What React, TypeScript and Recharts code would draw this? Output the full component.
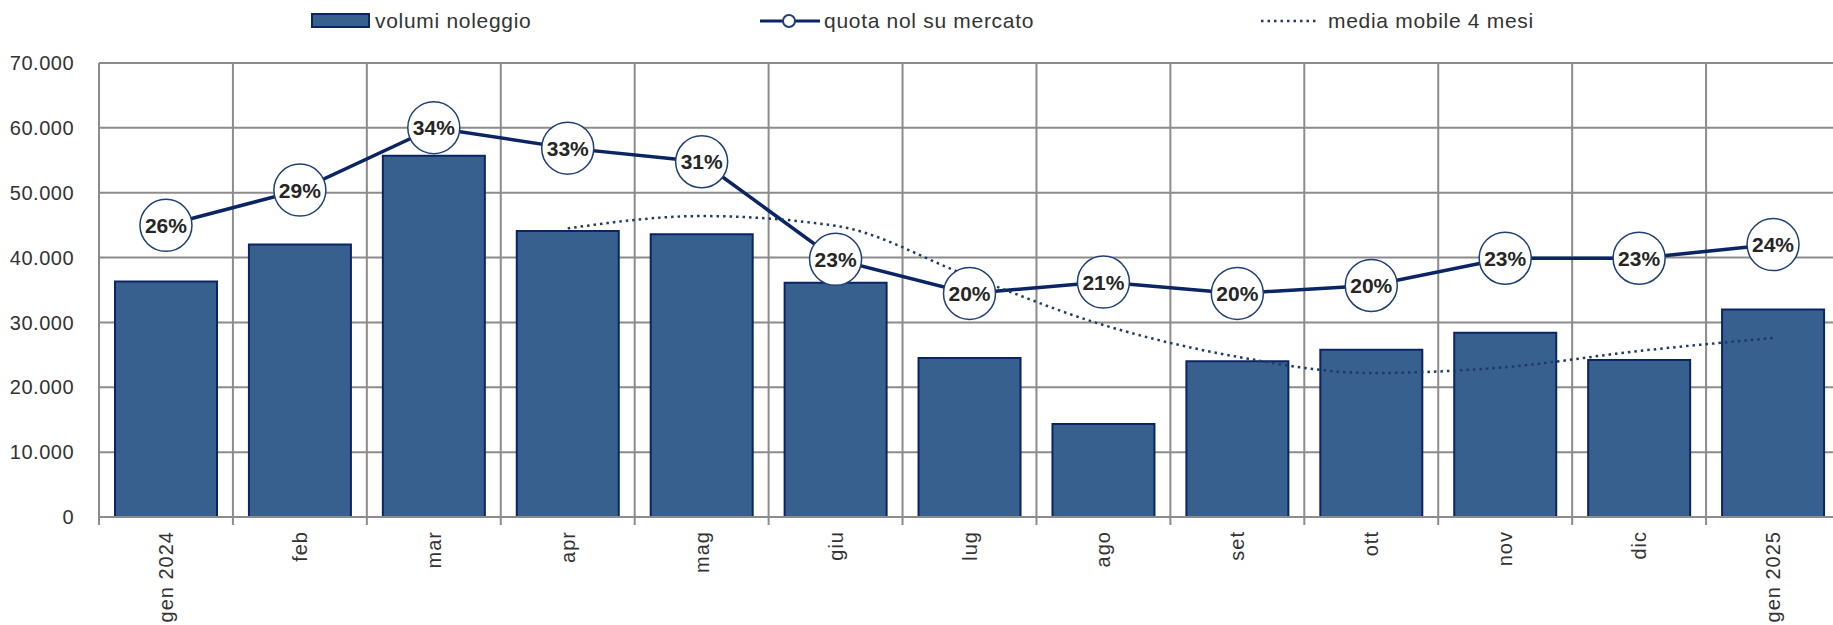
import {
  ComposedChart,
  Bar,
  Line,
  XAxis,
  YAxis,
  CartesianGrid,
  Legend,
} from "recharts";

/* ── dati ── */
const MONTHS = ["gen 2024", "feb", "mar", "apr", "mag", "giu", "lug", "ago", "set", "ott", "nov", "dic", "gen 2025"];
const VOLUMI = [36300, 42000, 55700, 44100, 43600, 36100, 24500, 14350, 24000, 25800, 28400, 24200, 32000];
const QUOTA = [25.7, 28.8, 34.3, 32.5, 31.3, 22.7, 19.7, 20.7, 19.7, 20.4, 22.8, 22.8, 24.0];
const MEDIA_4M = [null, null, null, 44500, 46400, 44900, 37100, 29600, 24700, 22200, 23100, 25600, 27600];
const Y_TICKS = [0, 10000, 20000, 30000, 40000, 50000, 60000, 70000];

const LEGEND_NAMES = ["volumi noleggio", "quota nol su mercato", "media mobile 4 mesi"];

const BAR_FILL = "#37608f";
const NAVY = "#0b2463";
const GRID = "#8c8c8c";
const TEXT = "#333333";
const FONT = "'Liberation Sans', Arial, sans-serif";

const data = MONTHS.map((month, i) => ({
  month,
  vol: VOLUMI[i],
  quota: QUOTA[i],
  ma: MEDIA_4M[i],
}));

const fmtThousands = (v: number) =>
  v === 0 ? "0" : String(v).replace(/\B(?=(\d{3})+(?!\d))/g, ".");

/* ── etichette mese ruotate + tacche sui bordi delle categorie ── */
function MonthTick({ x, y, payload, width, visibleTicksCount, index }: any) {
  const n = visibleTicksCount || MONTHS.length;
  const band = width ? width / n : 133.9;
  const axisY = y - 10;
  const left = x - band / 2;
  return (
    <g>
      <line x1={left} y1={axisY} x2={left} y2={axisY + 8} stroke={GRID} strokeWidth={2} />
      {index === n - 1 && (
        <line x1={left + band} y1={axisY} x2={left + band} y2={axisY + 8} stroke={GRID} strokeWidth={2} />
      )}
      <text
        x={x}
        y={y + 4}
        transform={`rotate(-90, ${x}, ${y + 4})`}
        textAnchor="end"
        dominantBaseline="central"
        fontSize={20}
        letterSpacing={1}
        fill={TEXT}
        fontFamily={FONT}
      >
        {payload.value}
      </text>
    </g>
  );
}

/* ── bolla con percentuale ── */
function QuotaDot({ cx, cy, value, index }: any) {
  if (cx == null || cy == null) return null;
  return (
    <g key={`q-${index}`}>
      <circle cx={cx} cy={cy} r={26} fill="#fff" stroke="#1f3f75" strokeWidth={1.5} />
      <text
        x={cx}
        y={cy}
        textAnchor="middle"
        dominantBaseline="central"
        fontSize={21}
        fontWeight="bold"
        fill="#262626"
        fontFamily={FONT}
      >
        {Math.round(value)}%
      </text>
    </g>
  );
}

/* ── legenda in alto ── */
const LEGEND_LEFT = [311, 760, 1261];

function TopLegend() {
  const label = (text: string, left: number) => (
    <span
      style={{
        position: "absolute",
        left,
        top: 8,
        fontSize: 21,
        letterSpacing: 0.7,
        color: TEXT,
        fontFamily: FONT,
        lineHeight: "26px",
        whiteSpace: "nowrap",
      }}
    >
      {text}
    </span>
  );
  return (
    <div style={{ position: "relative", width: 1833, height: 44 }}>
      <svg style={{ position: "absolute", left: 0, top: 0 }} width={1833} height={44}>
        <rect x={LEGEND_LEFT[0] + 1} y={14} width={57} height={13} fill={BAR_FILL} stroke={NAVY} strokeWidth={2} />
        <line x1={LEGEND_LEFT[1]} y1={21} x2={LEGEND_LEFT[1] + 60} y2={21} stroke={NAVY} strokeWidth={3} />
        <circle cx={LEGEND_LEFT[1] + 29} cy={21} r={6} fill="#fff" stroke="#1f3f75" strokeWidth={2} />
        <line
          x1={LEGEND_LEFT[2]}
          y1={21}
          x2={LEGEND_LEFT[2] + 58}
          y2={21}
          stroke="#1f3a64"
          strokeWidth={2.5}
          strokeDasharray="2.5 4"
        />
      </svg>
      {label(LEGEND_NAMES[0], LEGEND_LEFT[0] + 64)}
      {label(LEGEND_NAMES[1], LEGEND_LEFT[1] + 64)}
      {label(LEGEND_NAMES[2], LEGEND_LEFT[2] + 67)}
    </div>
  );
}

export default function App() {
  return (
    <div
      style={{
        position: "absolute",
        left: 0,
        top: 0,
        width: 1833,
        height: 625,
        overflow: "hidden",
        background: "#fff",
        fontFamily: FONT,
      }}
    >
      <ComposedChart
        width={1850}
        height={625}
        data={data}
        margin={{ top: 63, right: 10, bottom: 0, left: 0 }}
      >
        <Legend
          verticalAlign="middle"
          align="center"
          wrapperStyle={{ top: 0, left: 0, width: 1833, height: 44 }}
          content={() => <TopLegend />}
        />
        <CartesianGrid
          stroke={GRID}
          strokeWidth={2}
          verticalCoordinatesGenerator={({ offset }: any) =>
            Array.from({ length: MONTHS.length + 1 }, (_, i) => offset.left + (i * offset.width) / MONTHS.length)
          }
        />
        <XAxis
          dataKey="month"
          height={108}
          interval={0}
          axisLine={{ stroke: GRID, strokeWidth: 2 }}
          tickLine={false}
          tickSize={8}
          tickMargin={2}
          tick={<MonthTick />}
        />
        <YAxis
          yAxisId={0}
          width={99}
          domain={[0, 70000]}
          ticks={Y_TICKS}
          axisLine={false}
          tickLine={false}
          tickSize={0}
          tickMargin={25}
          tickFormatter={fmtThousands}
          tick={{ fontSize: 20, fill: TEXT, fontFamily: FONT, letterSpacing: 0.5 }}
        />
        <YAxis yAxisId="pct" orientation="right" hide domain={[0, 40]} />
        <Bar
          yAxisId={0}
          dataKey="vol"
          name={LEGEND_NAMES[0]}
          fill={BAR_FILL}
          stroke={NAVY}
          strokeWidth={2}
          barSize={102}
          isAnimationActive={false}
        />
        <Line
          yAxisId="pct"
          dataKey="quota"
          name={LEGEND_NAMES[1]}
          stroke={NAVY}
          strokeWidth={3.5}
          dot={<QuotaDot />}
          activeDot={false}
          isAnimationActive={false}
        />
        <Line
          yAxisId={0}
          dataKey="ma"
          name={LEGEND_NAMES[2]}
          type="monotone"
          stroke="#1f3a64"
          strokeWidth={2.5}
          strokeDasharray="2.5 4"
          dot={false}
          activeDot={false}
          isAnimationActive={false}
        />
      </ComposedChart>
    </div>
  );
}
